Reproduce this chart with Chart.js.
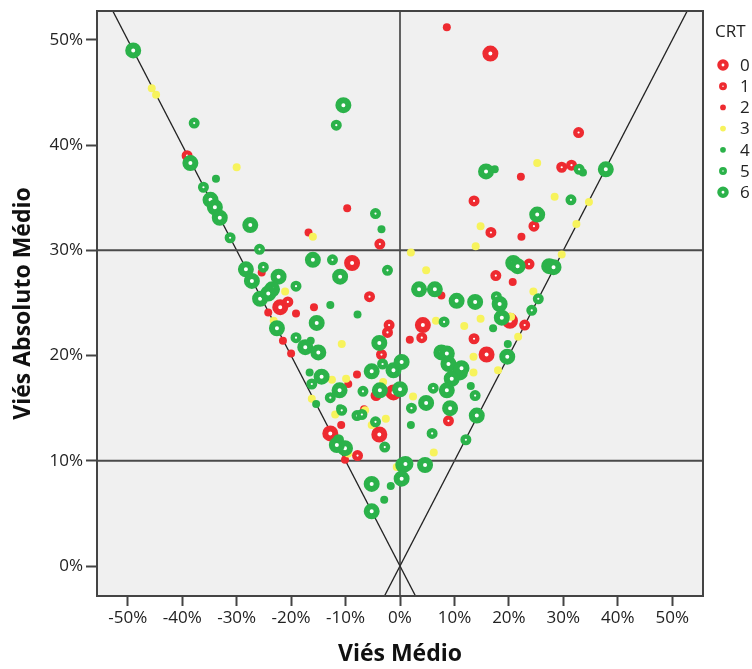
<!DOCTYPE html>
<html><head><meta charset="utf-8">
<script src="https://cdn.jsdelivr.net/npm/chart.js@4/dist/chart.umd.min.js"></script>
<style>html,body{margin:0;padding:0;background:#fff;overflow:hidden}</style>
</head><body>
<canvas id="c" width="752" height="669"></canvas>
<script>
// ---- data ----
const crtLabels = ['0','1','2','3','4','5','6'];
const crt0 = [[-8.8,28.8],[-22.0,24.6],[20.2,23.3],[4.2,22.9],[15.9,20.1],[-1.2,16.5],[-12.8,12.6],[-3.8,12.5],[16.6,48.7]];
const crt1 = [[-39.1,39.0],[-3.7,30.6],[-20.6,25.1],[-5.6,25.6],[-2.0,22.9],[-2.3,22.2],[-3.4,20.1],[16.7,31.7],[17.6,27.6],[4.0,21.7],[13.6,21.6],[-4.4,16.2],[-7.8,10.5],[8.9,13.8],[24.6,32.3],[23.7,28.7],[22.9,22.9],[32.8,41.2],[29.7,37.9],[31.5,38.1],[13.6,34.7]];
const crt2 = [[-9.7,34.0],[-16.8,31.7],[-25.4,27.9],[-24.2,24.1],[-19.1,24.0],[-15.8,24.6],[-21.5,21.4],[-20.0,20.2],[-7.9,18.2],[7.6,25.7],[1.8,21.5],[-9.5,17.3],[-14.3,17.9],[-6.6,14.9],[-10.8,13.4],[-10.1,10.1],[22.3,31.3],[20.7,27.0],[8.6,51.2],[22.2,37.0]];
const crt3 = [[-45.6,45.4],[-44.8,44.8],[-30.0,37.9],[-16.0,31.3],[-21.1,26.1],[-23.2,23.3],[-10.7,21.1],[2.0,29.8],[14.8,32.3],[13.9,30.4],[4.8,28.1],[6.6,23.3],[11.8,22.8],[14.8,23.5],[13.5,19.9],[13.5,18.4],[-12.5,17.7],[-9.9,17.8],[2.4,16.1],[-3.1,17.5],[-11.9,14.4],[-6.4,14.8],[-2.6,14.0],[-5.2,13.4],[-16.2,15.9],[-9.5,10.7],[-0.6,9.4],[6.2,10.8],[29.7,29.6],[24.5,26.1],[20.4,23.7],[21.7,21.8],[18.0,18.6],[25.2,38.3],[28.4,35.1],[34.7,34.6],[32.4,32.5]];
const crt4 = [[-33.8,36.8],[-3.4,32.0],[-12.8,24.8],[-7.8,23.9],[-16.4,21.4],[-16.6,18.4],[17.1,22.6],[13.0,17.1],[-15.4,15.4],[-1.7,7.6],[-2.9,6.3],[2.0,13.4],[19.8,21.1],[17.4,37.7],[33.6,37.4],[-11.0,15.0]];
const crt5 = [[-37.8,42.1],[-36.1,36.0],[-31.2,31.2],[-4.5,33.5],[-25.8,30.1],[-12.4,29.1],[-2.3,28.1],[-25.1,28.4],[-19.1,26.6],[-19.1,21.7],[-3.2,19.2],[8.1,23.2],[-6.8,16.6],[2.1,15.0],[6.1,16.9],[13.8,16.2],[-16.2,17.3],[-12.8,16.0],[-10.7,14.8],[-7.9,14.3],[-7.0,14.4],[-4.5,13.7],[-11.3,12.0],[-2.8,11.3],[5.9,12.6],[12.1,12.0],[25.4,25.4],[24.2,24.3],[17.7,25.6],[32.9,37.7],[31.4,34.8],[-11.7,41.9]];
const crt6 = [[-49.0,49.0],[-38.5,38.3],[-34.8,34.8],[-34.0,34.1],[-33.1,33.1],[-27.5,32.4],[-16.0,29.1],[-11.0,27.5],[-28.3,28.2],[-27.2,27.1],[-22.3,27.5],[-23.5,26.3],[-25.7,25.4],[-24.2,25.9],[-15.3,23.1],[-22.6,22.6],[-3.8,21.2],[-17.4,20.8],[-15.0,20.3],[-14.4,18.0],[-5.2,18.5],[-1.2,18.6],[3.5,26.3],[6.4,26.3],[10.4,25.2],[13.8,25.1],[18.3,24.9],[18.7,23.6],[0.3,19.4],[7.6,20.3],[8.6,20.2],[8.9,19.2],[11.0,18.4],[9.5,17.8],[11.3,18.8],[8.6,16.7],[0.0,16.8],[-3.7,16.7],[-11.1,16.7],[4.8,15.5],[9.2,15.0],[14.1,14.3],[-10.1,11.2],[-11.6,11.5],[0.6,9.6],[0.3,8.3],[-5.2,7.8],[-5.2,5.2],[1.0,9.7],[4.6,9.6],[20.8,28.8],[21.6,28.5],[27.4,28.5],[28.2,28.4],[19.7,19.9],[15.8,37.5],[37.8,37.7],[25.2,33.4],[-10.4,43.8]];
const crtSeries = [crt0, crt1, crt2, crt3, crt4, crt5, crt6];
const xTicks = [-50,-40,-30,-20,-10,0,10,20,30,40,50];
const yTicks = [0,10,20,30,40,50];
const xRange = [-55.65, 55.65];
const yRange = [-2.85, 52.75];
const hRefLines = [10, 30];
const vRefLines = [0];
const diagSlopes = [-1, 1];

// ---- styles ----
const RED = '#ee2a30', YEL = '#f7f35c', GRN = '#2bb24a';
const catStyle = [
  {c:RED, r:5,   bw:6},
  {c:RED, r:3.3, bw:4.4},
  {c:RED, r:4,   bw:0},
  {c:YEL, r:4,   bw:0},
  {c:GRN, r:4,   bw:0},
  {c:GRN, r:3.3, bw:4.4},
  {c:GRN, r:5,   bw:6}
];
const FAM = '"Open Sans", "Liberation Sans", Arial, sans-serif';

const datasets = [];
crtSeries.forEach((arr, i) => {
  const s = catStyle[i];
  datasets.push({
    type:'scatter', label: crtLabels[i],
    data: arr.map(p => ({x:p[0], y:p[1]})),
    pointStyle:'circle', pointRadius:s.r,
    pointBorderWidth:s.bw, pointBorderColor:s.c,
    pointBackgroundColor: s.bw > 0 ? '#ffffff' : s.c,
    order: 10 + (6 - i), clip: 0
  });
});
const lineDs = (pts, color, w) => ({
  type:'line', data: pts, borderColor: color, borderWidth: w, pointRadius: 0,
  fill:false, tension:0, clip: 0, order: 100
});
hRefLines.forEach(v => datasets.push(lineDs([{x:-60,y:v},{x:60,y:v}], '#4a4a4a', 2)));
vRefLines.forEach(v => datasets.push(lineDs([{x:v,y:-10},{x:v,y:60}], '#333', 1.5)));
diagSlopes.forEach(m => datasets.push(lineDs([{x:-60,y:-60*m},{x:60,y:60*m}], '#222', 1.3)));

const areaPlugin = {
  id:'area',
  beforeDatasetsDraw(chart){
    const {ctx, chartArea:a} = chart;
    ctx.save(); ctx.fillStyle = '#f0f0f0';
    ctx.fillRect(a.left, a.top, a.right - a.left, a.bottom - a.top);
    ctx.restore();
  },
  afterDraw(chart){
    const {ctx, chartArea:a} = chart;
    ctx.save();
    ctx.strokeStyle = '#444'; ctx.lineWidth = 2;
    ctx.strokeRect(a.left, a.top, a.right - a.left, a.bottom - a.top);
    // legend
    ctx.fillStyle = '#222'; ctx.font = '17px ' + FAM;
    ctx.textBaseline = 'middle'; ctx.textAlign = 'left';
    ctx.fillText('CRT', 715, 32);
    crtLabels.forEach((lab, i) => {
      const y = 65 + i * 21.2, x = 723, s = catStyle[i], k = 0.72;
      ctx.beginPath(); ctx.arc(x, y, s.r * k, 0, Math.PI * 2);
      if (s.bw > 0) {
        ctx.fillStyle = '#fff'; ctx.fill();
        ctx.lineWidth = s.bw * k; ctx.strokeStyle = s.c; ctx.stroke();
      } else { ctx.fillStyle = s.c; ctx.fill(); }
      ctx.fillStyle = '#222';
      ctx.fillText(lab, 740, y + 1);
    });
    ctx.restore();
  }
};

const tickFont = {family:FAM, size:17};
const titleFont = {family:FAM, size:23, weight:'bold'};

new Chart(document.getElementById('c'), {
  data:{datasets},
  options:{
    responsive:false, animation:false, devicePixelRatio:1, events:[],
    layout:{padding:{left:0, right:49, top:10, bottom:0}},
    plugins:{legend:{display:false}, tooltip:{enabled:false}},
    scales:{
      x:{type:'linear', min:xRange[0], max:xRange[1],
        afterBuildTicks: s => { s.ticks = xTicks.map(v => ({value:v})); },
        afterFit: s => { s.height = 73; s.paddingLeft = 0; s.paddingRight = 0; },
        grid:{drawOnChartArea:false, drawTicks:true, tickLength:10, tickColor:'#444', tickWidth:2},
        border:{display:false},
        ticks:{font:tickFont, color:'#222', padding:2, maxRotation:0, callback: v => v + '%'},
        title:{display:true, text:'Viés Médio', font:titleFont, color:'#111', padding:{top:0, bottom:1}}
      },
      y:{type:'linear', min:yRange[0], max:yRange[1],
        afterBuildTicks: s => { s.ticks = yTicks.map(v => ({value:v})); },
        afterFit: s => { s.width = 97; s.paddingTop = 0; s.paddingBottom = 0; },
        grid:{drawOnChartArea:false, drawTicks:true, tickLength:11, tickColor:'#444', tickWidth:2},
        border:{display:false},
        ticks:{font:tickFont, color:'#222', padding:3, callback: v => v + '%'},
        title:{display:true, text:'Viés Absoluto Médio', font:titleFont, color:'#111', padding:{top:10, bottom:0}}
      }
    }
  },
  plugins:[areaPlugin]
});
</script>
</body></html>
